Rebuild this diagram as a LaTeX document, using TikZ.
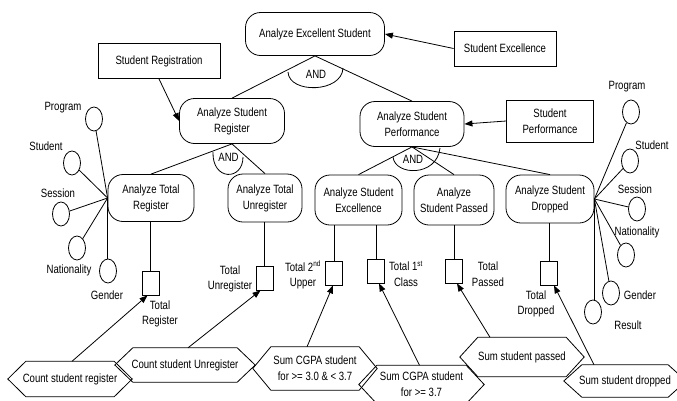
\documentclass[tikz,border=0pt]{standalone}
\usepackage{fontspec}
\setmainfont{Liberation Sans}[FakeStretch=0.8]
\usetikzlibrary{shapes.geometric,arrows.meta}
\newcommand\hexdraw[1]{\draw[line width=0.8pt] (#1.west) -- ([xshift=18pt]#1.north west) -- ([xshift=-18pt]#1.north east) -- (#1.east) -- ([xshift=-18pt]#1.south east) -- ([xshift=18pt]#1.south west) -- cycle;}
\begin{document}
\begin{tikzpicture}[x=1pt,y=-1pt,
  every node/.style={font=\fontsize{12}{16}\selectfont, align=center, inner sep=1pt},
  ln/.style={line width=0.8pt},
  proc/.style={draw, line width=0.8pt, rounded corners=15pt, inner sep=0pt},
  src/.style={draw, line width=0.8pt, inner sep=0pt},
  attr/.style={draw, ellipse, line width=0.8pt, minimum width=17pt, minimum height=24pt, inner sep=0pt},
  val/.style={draw, line width=0.8pt, minimum width=17pt, minimum height=24pt, inner sep=0pt},
  hexnode/.style={inner sep=0pt},
  arr/.style={line width=0.8pt, -{Triangle[length=8pt,width=6pt]}},
  lbl/.style={inner sep=0pt, font=\fontsize{12}{15.5}\selectfont},
]
\useasboundingbox (0,0) rectangle (677,400);

% process nodes
\node[proc, minimum width=139pt, minimum height=43pt] (aes) at (315,34) {Analyze Excellent Student};
\node[proc, minimum width=105pt, minimum height=45pt] (asr) at (232,121) {Analyze Student\\Register};
\node[proc, minimum width=104pt, minimum height=45pt] (asp) at (412,124) {Analyze Student\\Performance};
\node[proc, minimum width=86pt, minimum height=47pt] (atr) at (151,198) {Analyze Total\\Register};
\node[proc, minimum width=74pt, minimum height=48pt] (atu) at (265,198) {Analyze Total\\Unregister};
\node[proc, minimum width=87pt, minimum height=50pt] (ase) at (358.5,200) {Analyze Student\\Excellence};
\node[proc, minimum width=80pt, minimum height=50pt] (aspa) at (454,200) {Analyze\\Student Passed};
\node[proc, minimum width=88pt, minimum height=48pt] (asd) at (550,199) {Analyze Student\\Dropped};

% source boxes
\node[src, minimum width=122pt, minimum height=35pt] (sr) at (159,61) {Student Registration};
\node[src, minimum width=102pt, minimum height=35pt] (se) at (505,48.5) {Student Excellence};
\node[src, minimum width=87pt, minimum height=42pt] (sp) at (550,121) {Student\\Performance};

\draw[arr] (sr.south) -- (asr.west);
\draw[arr] (se.west) -- (aes.east);
\draw[arr] (sp.west) -- (asp.east);

% tree lines
\draw[ln] (aes.south) -- (asr.north);
\draw[ln] (aes.south) -- (asp.north);
\draw[ln] (asr.south) -- (atr.north);
\draw[ln] (asr.south) -- (atu.north);
\draw[ln] (asp.south) -- (ase.north);
\draw[ln] (asp.south) -- (aspa.north);
\draw[ln] (asp.south) -- (asd.north);

% AND arcs
\node[inner sep=0pt] (and1) at (316,74) {AND};
\draw[ln] (288,72) .. controls (289,94) and (342,93) .. (343,68);
\node[inner sep=0pt] (and2) at (228.5,157) {AND};
\draw[ln] (213,152) .. controls (212,181) and (243,181) .. (243,157);
\node[inner sep=0pt] (and3) at (413,159) {AND};
\draw[ln] (393,157) .. controls (395,176) and (437,177) .. (440,148);

% left attributes
\coordinate (hl) at (atr.west);
\node[attr] (lprog) at (94,119) {};
\node[attr] (lstud) at (72,163) {};
\node[attr] (lsess) at (61,214) {};
\node[attr] (lnat) at (77,248) {};
\node[attr] (lgen) at (108,271) {};
\node[lbl] at (63,108) {Program};
\node[lbl] at (46,146) {Student};
\node[lbl] at (58,193) {Session};
\node[lbl] at (69,270) {Nationality};
\node[lbl] at (107,295) {Gender};
\foreach \c in {lprog,lstud,lsess,lnat} \draw[ln] (hl) -- (\c);
\draw[ln] (hl) -- (hl |- lgen.north);

% right attributes
\coordinate (hr) at (asd.east);
\node[attr] (rprog) at (631,112) {};
\node[attr] (rstud) at (630,161) {};
\node[attr] (rsess) at (637,209) {};
\node[attr] (rnat) at (626,255) {};
\node[attr] (rgen) at (611,293) {};
\node[attr] (rres) at (593,312) {};
\node[lbl] at (627,87) {Program};
\node[lbl] at (652,145) {Student};
\node[lbl] at (635,189) {Session};
\node[lbl] at (637,232) {Nationality};
\node[lbl] at (640,295) {Gender};
\node[lbl] at (628,325) {Result};
\foreach \c in {rprog,rstud,rsess,rnat,rgen} \draw[ln] (hr) -- (\c);
\draw[ln] (hr) -- (hr |- rres.north);

% value squares
\node[val] (sq1) at (150.5,283) {};
\node[val] (sq2) at (264.5,278) {};
\node[val] (sq3) at (334,273) {};
\node[val] (sq4) at (376,271) {};
\node[val] (sq5) at (454,271) {};
\node[val] (sq6) at (549,273) {};
\draw[ln] (atr.south -| sq1.north) -- (sq1.north);
\draw[ln] (atu.south -| sq2.north) -- (sq2.north);
\draw[ln] (ase.south -| sq3.north) -- (sq3.north);
\draw[ln] (ase.south -| sq4.north) -- (sq4.north);
\draw[ln] (aspa.south -| sq5.north) -- (sq5.north);
\draw[ln] (asd.south -| sq6.north) -- (sq6.north);

\node[lbl] at (160,314) {Total\\Register};
\node[lbl] at (230,279) {Total\\Unregister};
\node[lbl] at (303,275) {Total 2\textsuperscript{nd}\\Upper};
\node[lbl] at (406,274) {Total 1\textsuperscript{st}\\Class};
\node[lbl] at (488,274) {Total\\Passed};
\node[lbl] at (536,304) {Total\\Dropped};

% hexagons
\node[hexnode, minimum width=124pt, minimum height=35pt] (h1) at (70,379) {Count student register};
\node[hexnode, minimum width=140pt, minimum height=34pt] (h2) at (185,365) {Count student Unregister};
\node[hexnode, minimum width=124pt, minimum height=43pt] (h3) at (315,368.5) {Sum CGPA student\\for >= 3.0 \& < 3.7};
\node[hexnode, minimum width=125pt, minimum height=38pt] (h4) at (421.5,384.5) {Sum CGPA student\\for >= 3.7};
\node[hexnode, minimum width=124pt, minimum height=39pt] (h5) at (522,357) {Sum student passed};
\node[hexnode, minimum width=122pt, minimum height=32pt] (h6) at (625,381) {Sum student dropped};
\hexdraw{h1}
\hexdraw{h2}
\hexdraw{h3}
\hexdraw{h4}
\hexdraw{h5}
\hexdraw{h6}

\draw[arr] ([xshift=2pt]h1.north) -- ([xshift=-3pt]sq1.south);
\draw[arr] ([xshift=3pt]h2.north) -- ([xshift=-4pt]sq2.south);
\draw[arr] ([xshift=-8pt]h3.north) -- ([xshift=-1pt]sq3.south);
\draw[arr] ([xshift=-2pt]h4.north) -- ([xshift=3pt]sq4.south);
\draw[arr] ([xshift=-32pt]h5.north) -- ([xshift=3pt]sq5.south);
\draw[arr] ([xshift=-31pt]h6.north) -- ([xshift=5pt]sq6.south);
\end{tikzpicture}
\end{document}
